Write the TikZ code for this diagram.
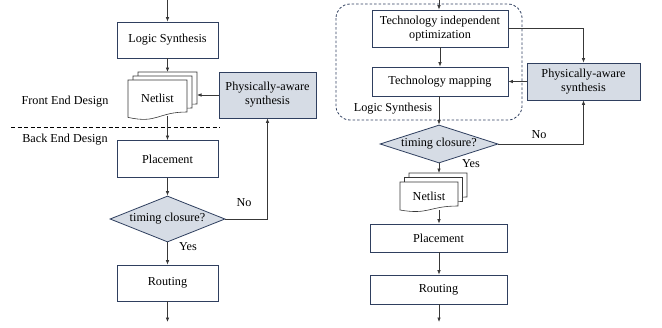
\documentclass[tikz,border=0pt]{standalone}
\usepackage{fontspec}
\setmainfont{Liberation Serif}
\usepackage{tikz}
\usetikzlibrary{arrows.meta,shapes.geometric,positioning}
\definecolor{boxline}{HTML}{2F3F5F}
\definecolor{boxfill}{HTML}{D6DCE5}
\definecolor{wire}{HTML}{383838}
% one sheet of a netlist stack: top-left x, y, width, height
\newcommand{\netdoc}[4]{%
  \filldraw[docsheet] (#1,#2) -- ({#1+#3},#2) -- ({#1+#3},{#2+0.8*#4})
    .. controls ({#1+0.5*#3},{#2+0.8*#4}) and ({#1+0.5*#3},{#2+1.1*#4}) ..
    (#1,{#2+0.934*#4}) -- cycle;}

\begin{document}
\begin{tikzpicture}[x=1pt,y=-1pt,
    font=\fontsize{12.2}{14}\selectfont,
    proc/.style={draw=boxline, line width=0.8pt, fill=white, align=center, inner sep=0pt},
    phys/.style={proc, fill=boxfill},
    decide/.style={diamond, draw=boxline, fill=boxfill, line width=0.8pt, inner sep=0pt},
    docsheet/.style={draw=wire, fill=white, line width=0.6pt},
    arr/.style={-{Latex[length=4.5pt,width=3.6pt]}, draw=wire, line width=0.7pt},
    lbl/.style={inner sep=0pt}]
    \useasboundingbox (0,0) rectangle (662,327);

    % ---- left flow ----
    \coordinate (inL) at (167.5,0);
    \node[proc, minimum width=101pt, minimum height=36pt] (lsyn) at (167.5,40) {Logic Synthesis};
    \netdoc{138}{72}{59}{40}
    \netdoc{133}{76}{59}{40}
    \netdoc{128}{80}{59}{40}
    \node[lbl] (netL) at (157.5,98) {Netlist};
    \coordinate (netLin) at (167.5,72);
    \coordinate (netLout) at (167.5,116);
    \coordinate (netLside) at (197,95);
    \node[phys, minimum width=97pt, minimum height=46pt] (physL) at (267.5,95) {Physically-aware\\synthesis};
    \node[lbl] (front) at (65,102) {Front End Design};
    \draw[dashed, dash pattern=on 4pt off 2.5pt, line width=0.6pt] (11,127) -- (220,127);
    \node[lbl] (back) at (65,140) {Back End Design};
    \node[proc, minimum width=101pt, minimum height=37pt] (placeL) at (167.5,159) {Placement};
    \node[decide, aspect=2.5, minimum width=115pt, minimum height=46pt] (diaL) at (167.5,219) {timing closure?};
    \node[proc, minimum width=101pt, minimum height=36pt] (routL) at (167.5,283) {Routing};
    \coordinate (outL) at (167.5,322);
    \node[lbl] (noL) at (244,203) {No};
    \node[lbl] (yesL) at (188,247) {Yes};

    \draw[arr] (inL) -- (lsyn);
    \draw[arr] (lsyn) -- (netLin);
    \draw[arr] (physL.west) -- (netLside);
    \draw[arr] (netLout) -- (placeL);
    \draw[arr] (placeL) -- (diaL);
    \draw[arr] (diaL.east) -| (physL.south);
    \draw[arr] (diaL) -- (routL);
    \draw[arr] (routL) -- (outL);

    % ---- right flow ----
    \draw[boxline, dashed, dash pattern=on 2.5pt off 2pt, line width=0.8pt, rounded corners=14pt]
        (336,4) rectangle (522,120);
    \coordinate (inR) at (439,0);
    \node[proc, minimum width=136pt, minimum height=37pt] (tio) at (440,28.5) {Technology independent\\optimization};
    \node[proc, minimum width=136pt, minimum height=29pt] (tmap) at (440,81.5) {Technology mapping};
    \node[lbl] (lsynR) at (393,109) {Logic Synthesis};
    \node[phys, minimum width=113pt, minimum height=37pt] (physR) at (583.5,81.5) {Physically-aware\\synthesis};
    \node[decide, aspect=3.1, minimum width=118pt, minimum height=38pt] (diaR) at (439,144) {timing closure?};
    \node[lbl] (noR) at (539,135) {No};
    \node[lbl] (yesR) at (471,164) {Yes};
    \netdoc{409}{173}{58}{30}
    \netdoc{404.5}{177.5}{58}{30}
    \netdoc{400}{182}{58}{30}
    \node[lbl] (netR) at (429,196) {Netlist};
    \coordinate (netRin) at (439,173);
    \coordinate (netRout) at (439,210);
    \node[proc, minimum width=137pt, minimum height=28pt] (placeR) at (438.5,238) {Placement};
    \node[proc, minimum width=137pt, minimum height=29pt] (routR) at (438.5,289.5) {Routing};
    \coordinate (outR) at (439,322);

    \draw[arr] (inR) -- (inR |- tio.north);
    \draw[arr] (tio) -- (tmap);
    \draw[arr] (tio.east) -| (physR.north);
    \draw[arr] (physR.west) -- (tmap.east);
    \draw[arr] (tmap.south -| diaR.north) -- (diaR.north);
    \draw[arr] (diaR.east) -| (physR.south);
    \draw[arr] (diaR.south) -- (netRin);
    \draw[arr] (netRout) -- (netRout |- placeR.north);
    \draw[arr] (placeR.south -| outR) -- (routR.north -| outR);
    \draw[arr] (routR.south -| outR) -- (outR);
\end{tikzpicture}
\end{document}
